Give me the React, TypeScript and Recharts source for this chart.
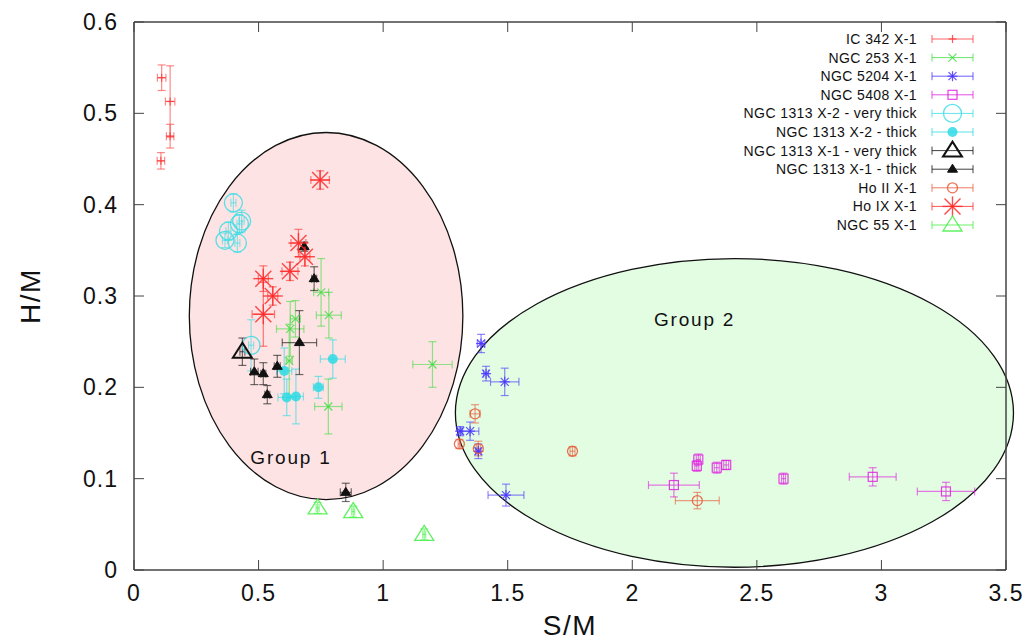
import React from 'react';
import { ScatterChart, Scatter, XAxis, YAxis, ErrorBar, ReferenceArea, ReferenceDot, Legend } from 'recharts';

type P = { x: number; y: number; ex: number; ey: number };

const FONT = '"Liberation Sans", Arial, Helvetica, sans-serif';

const xTicks = [0, 0.5, 1, 1.5, 2, 2.5, 3, 3.5];
const yTicks = [0, 0.1, 0.2, 0.3, 0.4, 0.5, 0.6];

const ic342: P[] = [
  { x: 0.111, y: 0.539, ex: 0.017, ey: 0.014 },
  { x: 0.145, y: 0.513, ex: 0.019, ey: 0.039 },
  { x: 0.145, y: 0.475, ex: 0.015, ey: 0.013 },
  { x: 0.108, y: 0.448, ex: 0.015, ey: 0.009 },
];
const ngc253: P[] = [
  { x: 0.751, y: 0.304, ex: 0.03, ey: 0.037 },
  { x: 0.782, y: 0.279, ex: 0.05, ey: 0.025 },
  { x: 0.648, y: 0.275, ex: 0.02, ey: 0.02 },
  { x: 0.627, y: 0.264, ex: 0.055, ey: 0.03 },
  { x: 0.623, y: 0.229, ex: 0.012, ey: 0.04 },
  { x: 0.78, y: 0.179, ex: 0.055, ey: 0.03 },
  { x: 1.198, y: 0.225, ex: 0.079, ey: 0.025 },
];
const ngc5204: P[] = [
  { x: 1.393, y: 0.248, ex: 0.015, ey: 0.01 },
  { x: 1.413, y: 0.215, ex: 0.01, ey: 0.008 },
  { x: 1.488, y: 0.206, ex: 0.057, ey: 0.015 },
  { x: 1.349, y: 0.152, ex: 0.035, ey: 0.01 },
  { x: 1.309, y: 0.152, ex: 0.01, ey: 0.005 },
  { x: 1.382, y: 0.13, ex: 0.01, ey: 0.008 },
  { x: 1.493, y: 0.082, ex: 0.072, ey: 0.012 },
];
const ngc5408: P[] = [
  { x: 2.167, y: 0.093, ex: 0.102, ey: 0.013 },
  { x: 2.259, y: 0.114, ex: 0.008, ey: 0.006 },
  { x: 2.265, y: 0.121, ex: 0.008, ey: 0.006 },
  { x: 2.339, y: 0.112, ex: 0.01, ey: 0.006 },
  { x: 2.377, y: 0.115, ex: 0.01, ey: 0.005 },
  { x: 2.607, y: 0.1, ex: 0.008, ey: 0.006 },
  { x: 2.965, y: 0.102, ex: 0.094, ey: 0.01 },
  { x: 3.259, y: 0.086, ex: 0.115, ey: 0.01 },
];
const x2VeryThick: P[] = [
  { x: 0.399, y: 0.402, ex: 0.01, ey: 0.01 },
  { x: 0.432, y: 0.382, ex: 0.01, ey: 0.012 },
  { x: 0.423, y: 0.379, ex: 0.01, ey: 0.01 },
  { x: 0.379, y: 0.371, ex: 0.01, ey: 0.01 },
  { x: 0.365, y: 0.361, ex: 0.01, ey: 0.008 },
  { x: 0.415, y: 0.358, ex: 0.01, ey: 0.01 },
  { x: 0.47, y: 0.246, ex: 0.01, ey: 0.028 },
];
const x2Thick: P[] = [
  { x: 0.798, y: 0.231, ex: 0.05, ey: 0.021 },
  { x: 0.603, y: 0.218, ex: 0.03, ey: 0.025 },
  { x: 0.74, y: 0.2, ex: 0.02, ey: 0.012 },
  { x: 0.613, y: 0.189, ex: 0.035, ey: 0.02 },
  { x: 0.65, y: 0.19, ex: 0.03, ey: 0.03 },
];
const x1VeryThick: P[] = [
  { x: 0.435, y: 0.239, ex: 0.01, ey: 0.015 },
];
const x1Thick: P[] = [
  { x: 0.723, y: 0.319, ex: 0.01, ey: 0.013 },
  { x: 0.664, y: 0.249, ex: 0.069, ey: 0.035 },
  { x: 0.483, y: 0.217, ex: 0.015, ey: 0.014 },
  { x: 0.519, y: 0.215, ex: 0.01, ey: 0.012 },
  { x: 0.575, y: 0.223, ex: 0.012, ey: 0.012 },
  { x: 0.535, y: 0.192, ex: 0.01, ey: 0.01 },
  { x: 0.85, y: 0.085, ex: 0.022, ey: 0.01 },
  { x: 0.683, y: 0.354, ex: 0.005, ey: 0.005 },
];
const hoII: P[] = [
  { x: 1.369, y: 0.171, ex: 0.02, ey: 0.01 },
  { x: 1.306, y: 0.138, ex: 0.005, ey: 0.005 },
  { x: 1.382, y: 0.133, ex: 0.008, ey: 0.008 },
  { x: 1.76, y: 0.13, ex: 0.01, ey: 0.005 },
  { x: 2.261, y: 0.076, ex: 0.088, ey: 0.009 },
];
const hoIX: P[] = [
  { x: 0.747, y: 0.427, ex: 0.037, ey: 0.01 },
  { x: 0.66, y: 0.358, ex: 0.03, ey: 0.015 },
  { x: 0.686, y: 0.343, ex: 0.02, ey: 0.01 },
  { x: 0.626, y: 0.327, ex: 0.032, ey: 0.01 },
  { x: 0.519, y: 0.319, ex: 0.02, ey: 0.014 },
  { x: 0.557, y: 0.3, ex: 0.02, ey: 0.01 },
  { x: 0.519, y: 0.28, ex: 0.045, ey: 0.035 },
];
const ngc55: P[] = [
  { x: 0.737, y: 0.068, ex: 0.006, ey: 0.006 },
  { x: 0.88, y: 0.064, ex: 0.006, ey: 0.006 },
  { x: 1.165, y: 0.039, ex: 0.006, ey: 0.006 },
];

const groupNames = ['Group 1', 'Group 2'];
const groupCenters = [{ x: 0.771, y: 0.278 }, { x: 2.41, y: 0.172 }];
const groupHalf = [{ x: 0.549, y: 0.201 }, { x: 1.12, y: 0.169 }];
const groupLabelPos = [{ x: 0.63, y: 0.123 }, { x: 2.25, y: 0.274 }];
const groupFills = ['#fde3e3', '#e3fde3'];

type Kind = 'plus' | 'cross' | 'star' | 'square' | 'bigCircle' | 'dot' | 'bigTri' | 'smallTri' | 'circle' | 'bigStar' | 'tri';

const series: { name: string; data: P[]; color: string; kind: Kind }[] = [
  { name: 'IC 342 X-1', data: ic342, color: '#ff3b3b', kind: 'plus' },
  { name: 'NGC 253 X-1', data: ngc253, color: '#45dd45', kind: 'cross' },
  { name: 'NGC 5204 X-1', data: ngc5204, color: '#4a35ff', kind: 'star' },
  { name: 'NGC 5408 X-1', data: ngc5408, color: '#e020e0', kind: 'square' },
  { name: 'NGC 1313 X-2 - very thick', data: x2VeryThick, color: '#3ddde6', kind: 'bigCircle' },
  { name: 'NGC 1313 X-2 - thick', data: x2Thick, color: '#2fdbe4', kind: 'dot' },
  { name: 'NGC 1313 X-1 - very thick', data: x1VeryThick, color: '#111111', kind: 'bigTri' },
  { name: 'NGC 1313 X-1 - thick', data: x1Thick, color: '#111111', kind: 'smallTri' },
  { name: 'Ho II X-1', data: hoII, color: '#e85a3a', kind: 'circle' },
  { name: 'Ho IX X-1', data: hoIX, color: '#ff2a2a', kind: 'bigStar' },
  { name: 'NGC 55 X-1', data: ngc55, color: '#44ee44', kind: 'tri' },
];

function marker(kind: Kind, cx: number, cy: number, c: string) {
  const op = 0.85;
  switch (kind) {
    case 'plus':
      return (
        <g stroke={c} strokeWidth={1.2} strokeOpacity={op}>
          <line x1={cx - 4} x2={cx + 4} y1={cy} y2={cy} />
          <line x1={cx} x2={cx} y1={cy - 4} y2={cy + 4} />
        </g>
      );
    case 'cross':
      return (
        <g stroke={c} strokeWidth={1.2} strokeOpacity={op}>
          <line x1={cx - 4} x2={cx + 4} y1={cy - 4} y2={cy + 4} />
          <line x1={cx - 4} x2={cx + 4} y1={cy + 4} y2={cy - 4} />
        </g>
      );
    case 'star':
      return (
        <g stroke={c} strokeWidth={1.2} strokeOpacity={op}>
          <line x1={cx - 4} x2={cx + 4} y1={cy - 4} y2={cy + 4} />
          <line x1={cx - 4} x2={cx + 4} y1={cy + 4} y2={cy - 4} />
          <line x1={cx} x2={cx} y1={cy - 5} y2={cy + 5} />
          <line x1={cx - 5} x2={cx + 5} y1={cy} y2={cy} />
        </g>
      );
    case 'bigStar':
      return (
        <g stroke={c} strokeWidth={1.4} strokeOpacity={op}>
          <line x1={cx - 8} x2={cx + 8} y1={cy - 8} y2={cy + 8} />
          <line x1={cx - 8} x2={cx + 8} y1={cy + 8} y2={cy - 8} />
          <line x1={cx} x2={cx} y1={cy - 10} y2={cy + 10} />
          <line x1={cx - 10} x2={cx + 10} y1={cy} y2={cy} />
        </g>
      );
    case 'square':
      return <rect x={cx - 4.5} y={cy - 4.5} width={9} height={9} fill="none" stroke={c} strokeWidth={1.2} strokeOpacity={op} />;
    case 'bigCircle':
      return <circle cx={cx} cy={cy} r={9} fill="none" stroke={c} strokeWidth={1.3} strokeOpacity={op} />;
    case 'dot':
      return <circle cx={cx} cy={cy} r={5} fill={c} fillOpacity={op} />;
    case 'circle':
      return <circle cx={cx} cy={cy} r={5} fill="none" stroke={c} strokeWidth={1.3} strokeOpacity={op} />;
    case 'bigTri':
      return <polygon points={`${cx},${cy - 9} ${cx - 9.5},${cy + 6} ${cx + 9.5},${cy + 6}`} fill="none" stroke={c} strokeWidth={2} />;
    case 'smallTri':
      return <polygon points={`${cx},${cy - 5} ${cx - 5},${cy + 3} ${cx + 5},${cy + 3}`} fill={c} stroke={c} strokeWidth={1} />;
    case 'tri':
      return <polygon points={`${cx},${cy - 9} ${cx - 9.5},${cy + 6} ${cx + 9.5},${cy + 6}`} fill="none" stroke={c} strokeWidth={1.3} strokeOpacity={op} />;
  }
  return null;
}

const fmt = (v: number) => String(v);
const AX = '#444';

const BottomTick = (props: any) => {
  const { x, y, payload } = props;
  return (
    <g>
      <line x1={x} x2={x} y1={y} y2={y - 10} stroke={AX} strokeWidth={1} />
      <text x={x} y={y + 31} textAnchor="middle" fontSize={23} fontFamily={FONT} fill="#111" letterSpacing={1}>{fmt(payload.value)}</text>
    </g>
  );
};
const TopTick = (props: any) => {
  const { x, y } = props;
  return <line x1={x} x2={x} y1={y} y2={y + 10} stroke={AX} strokeWidth={1} />;
};
const LeftTick = (props: any) => {
  const { x, y, payload } = props;
  return (
    <g>
      <line x1={x} x2={x + 10} y1={y} y2={y} stroke={AX} strokeWidth={1} />
      <text x={x - 16} y={y + 8} textAnchor="end" fontSize={23} fontFamily={FONT} fill="#111" letterSpacing={1}>{fmt(payload.value)}</text>
    </g>
  );
};
const RightTick = (props: any) => {
  const { x, y } = props;
  return <line x1={x} x2={x - 10} y1={y} y2={y} stroke={AX} strokeWidth={1} />;
};

const LegendBox = () => (
  <svg width={300} height={220} style={{ overflow: 'visible', display: 'block' }}>
    {series.map((s, i) => {
      const y = 11 + i * 18.6;
      return (
        <g key={s.name}>
          <text x={217} y={y + 5} textAnchor="end" fontSize={14} fontFamily={FONT} fill="#111" letterSpacing={0.4}>{s.name}</text>
          <g stroke={s.color} strokeOpacity={0.8} strokeWidth={1}>
            <line x1={232} x2={273} y1={y} y2={y} />
            <line x1={232} x2={232} y1={y - 4} y2={y + 4} />
            <line x1={273} x2={273} y1={y - 4} y2={y + 4} />
          </g>
          {marker(s.kind, 252.5, y, s.color)}
        </g>
      );
    })}
  </svg>
);

export default function App() {
  return (
    <div style={{ position: 'absolute', left: 0, top: 0, width: 1031, height: 642, background: '#fff' }}>
      <ScatterChart width={1031} height={642} margin={{ top: 21, right: 24, bottom: 22, left: 0 }}>
        {groupNames.map((g, i) => (
          <ReferenceArea
            key={g}
            x1={groupCenters[i].x - groupHalf[i].x}
            x2={groupCenters[i].x + groupHalf[i].x}
            y1={groupCenters[i].y - groupHalf[i].y}
            y2={groupCenters[i].y + groupHalf[i].y}
            ifOverflow="visible"
            shape={(p: any) => (
              <ellipse
                cx={p.x + p.width / 2}
                cy={p.y + p.height / 2}
                rx={Math.abs(p.width) / 2}
                ry={Math.abs(p.height) / 2}
                fill={groupFills[i]}
                stroke="#111"
                strokeWidth={1.3}
              />
            )}
          />
        ))}
        <XAxis
          dataKey="x"
          type="number"
          domain={[0, 3.5]}
          ticks={xTicks}
          allowDataOverflow
          height={50}
          tickSize={0}
          tickMargin={0}
          tickLine={false}
          tick={<BottomTick />}
          axisLine={{ stroke: AX, strokeWidth: 1.5 }}
          interval={0}
          label={{
            value: 'S/M',
            content: (p: any) => (
              <text x={p.viewBox.x + p.viewBox.width / 2} y={p.viewBox.y + 65} textAnchor="middle" fontSize={28} fontFamily={FONT} fill="#111" letterSpacing={1.5}>S/M</text>
            ),
          }}
        />
        <XAxis
          xAxisId="top"
          orientation="top"
          dataKey="x"
          type="number"
          domain={[0, 3.5]}
          ticks={xTicks}
          allowDataOverflow
          height={1}
          tickSize={0}
          tickMargin={0}
          tickLine={false}
          tick={<TopTick />}
          axisLine={{ stroke: AX, strokeWidth: 1.5 }}
          interval={0}
        />
        <YAxis
          dataKey="y"
          type="number"
          domain={[0, 0.6]}
          ticks={yTicks}
          allowDataOverflow
          width={134}
          tickSize={0}
          tickMargin={0}
          tickLine={false}
          tick={<LeftTick />}
          axisLine={{ stroke: AX, strokeWidth: 1.5 }}
          interval={0}
          label={{
            value: 'H/M',
            content: (p: any) => {
              const cy = p.viewBox.y + p.viewBox.height / 2;
              return (
                <text x={40} y={cy} transform={`rotate(-90, 40, ${cy})`} textAnchor="middle" fontSize={28} fontFamily={FONT} fill="#111" letterSpacing={1.5}>H/M</text>
              );
            },
          }}
        />
        <YAxis
          yAxisId="right"
          orientation="right"
          dataKey="y"
          type="number"
          domain={[0, 0.6]}
          ticks={yTicks}
          allowDataOverflow
          width={1}
          tickSize={0}
          tickMargin={0}
          tickLine={false}
          tick={<RightTick />}
          axisLine={{ stroke: AX, strokeWidth: 1.5 }}
          interval={0}
        />
        {series.map((s) => (
          <Scatter
            key={s.name}
            name={s.name}
            data={s.data}
            isAnimationActive={false}
            shape={(p: any) => marker(s.kind, p.cx, p.cy, s.color)}
          >
            <ErrorBar dataKey="ey" direction="y" width={4} stroke={s.color} strokeOpacity={0.6} strokeWidth={1.2} />
            <ErrorBar dataKey="ex" direction="x" width={4} stroke={s.color} strokeOpacity={0.6} strokeWidth={1.2} />
          </Scatter>
        ))}
        {groupNames.map((g, i) => (
          <ReferenceDot
            key={'lbl' + g}
            x={groupLabelPos[i].x}
            y={groupLabelPos[i].y}
            r={0}
            ifOverflow="visible"
            shape={(p: any) => (
              <text x={p.cx} y={p.cy + 6} textAnchor="middle" fontSize={19} fontFamily={FONT} fill="#111" letterSpacing={1.8}>{g}</text>
            )}
          />
        ))}
        <Legend
          layout="horizontal"
          verticalAlign="middle"
          align="center"
          wrapperStyle={{ left: 700, top: 28, width: 300, height: 220 }}
          content={() => <LegendBox />}
        />
      </ScatterChart>
    </div>
  );
}
